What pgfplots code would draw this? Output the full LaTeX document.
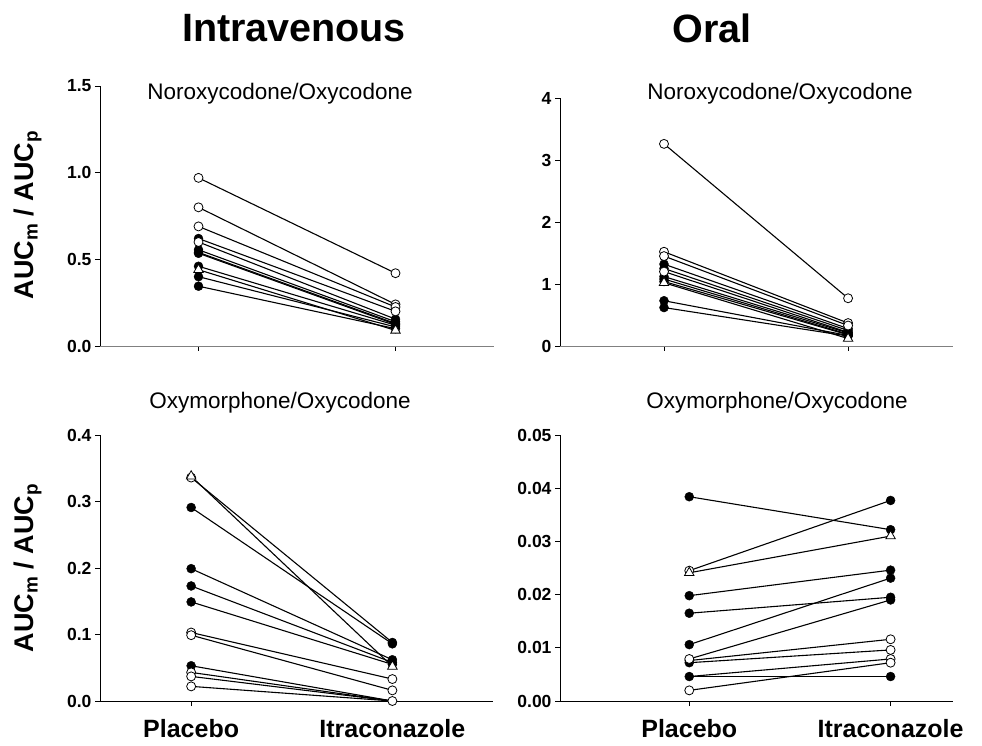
\documentclass[border=0pt]{standalone}
\usepackage{fontspec}
\setmainfont{Liberation Sans}
\usepackage{pgfplots}
\pgfplotsset{compat=1.18}
\pgfplotsset{
  panel/.style={scale only axis, axis x line=bottom, axis y line=left,
    axis line style={-, line width=0.8pt}, tick align=outside,
    major tick length=5pt, tick style={black, line width=0.8pt},
    xtick={1,2}, ymin=0, minor tick num=0, scaled y ticks=false,
    /pgf/number format/assume math mode=true,
    yticklabel style={font=\bfseries\fontsize{17.5}{17.5}\selectfont},
    xticklabel style={font=\bfseries\fontsize{25}{25}\selectfont, inner sep=0pt, yshift=-13.5pt},
    clip=false},
  ln/.style={black, line width=1.1pt, no markers, forget plot},
  fo/.style={only marks, mark=*, mark size=4.5pt, mark options={fill=black, draw=black}},
  oo/.style={only marks, mark=*, mark size=4.5pt, mark options={fill=white, draw=black, line width=0.8pt}},
  to/.style={only marks, mark=triangle*, mark size=5.5pt, mark options={fill=white, draw=black, line width=0.8pt}},
  prec1/.style={yticklabel style={/pgf/number format/fixed, /pgf/number format/fixed zerofill, /pgf/number format/precision=1}},
  prec2/.style={yticklabel style={/pgf/number format/fixed, /pgf/number format/fixed zerofill, /pgf/number format/precision=2}},
}
\begin{document}
\begin{tikzpicture}
\useasboundingbox (0,0) rectangle (982pt,745pt);
% ---------- Top-left: IV Noroxycodone/Oxycodone
\begin{axis}[panel, prec1, at={(100pt,399pt)}, anchor=south west, width=394pt, height=260pt,
  xmin=0.5, xmax=2.5, ymax=1.5, ytick={0,0.5,1.0,1.5}, xticklabels={},
  x axis line style={gray}]
\addplot[ln] coordinates {(1,0.97) (2,0.42)};
\addplot[ln] coordinates {(1,0.80) (2,0.24)};
\addplot[ln] coordinates {(1,0.69) (2,0.225)};
\addplot[ln] coordinates {(1,0.62) (2,0.20)};
\addplot[ln] coordinates {(1,0.60) (2,0.155)};
\addplot[ln] coordinates {(1,0.555) (2,0.14)};
\addplot[ln] coordinates {(1,0.54) (2,0.13)};
\addplot[ln] coordinates {(1,0.535) (2,0.125)};
\addplot[ln] coordinates {(1,0.46) (2,0.12)};
\addplot[ln] coordinates {(1,0.44) (2,0.09)};
\addplot[ln] coordinates {(1,0.40) (2,0.11)};
\addplot[ln] coordinates {(1,0.345) (2,0.10)};
\addplot[fo] coordinates {(1,0.62) (1,0.555) (1,0.54) (1,0.535) (1,0.46) (1,0.40) (1,0.345)
  (2,0.155) (2,0.14) (2,0.13) (2,0.125) (2,0.12) (2,0.11) (2,0.10)};
\addplot[oo] coordinates {(1,0.97) (1,0.80) (1,0.69) (1,0.60) (2,0.42) (2,0.24) (2,0.225) (2,0.20)};
\addplot[to] coordinates {(1,0.44) (2,0.09)};
\end{axis}
% ---------- Top-right: Oral Noroxycodone/Oxycodone
\begin{axis}[panel, at={(560pt,399pt)}, anchor=south west, width=393pt, height=248pt,
  xmin=0.435, xmax=2.57, ymax=4, ytick={0,1,2,3,4}, xticklabels={},
  x axis line style={gray}]
\addplot[ln] coordinates {(1,3.26) (2,0.77)};
\addplot[ln] coordinates {(1,1.52) (2,0.37)};
\addplot[ln] coordinates {(1,1.45) (2,0.33)};
\addplot[ln] coordinates {(1,1.32) (2,0.28)};
\addplot[ln] coordinates {(1,1.25) (2,0.25)};
\addplot[ln] coordinates {(1,1.20) (2,0.22)};
\addplot[ln] coordinates {(1,1.12) (2,0.21)};
\addplot[ln] coordinates {(1,1.08) (2,0.19)};
\addplot[ln] coordinates {(1,1.04) (2,0.18)};
\addplot[ln] coordinates {(1,1.02) (2,0.12)};
\addplot[ln] coordinates {(1,0.73) (2,0.17)};
\addplot[ln] coordinates {(1,0.62) (2,0.16)};
\addplot[fo] coordinates {(1,1.32) (1,1.25) (1,1.12) (1,1.08) (1,1.04) (1,0.73) (1,0.62)
  (2,0.28) (2,0.25) (2,0.22) (2,0.21) (2,0.19) (2,0.18) (2,0.17) (2,0.16)};
\addplot[oo] coordinates {(1,3.26) (1,1.52) (1,1.45) (1,1.20) (2,0.77) (2,0.37) (2,0.33)};
\addplot[to] coordinates {(1,1.02) (2,0.12)};
\end{axis}
% ---------- Bottom-left: IV Oxymorphone/Oxycodone
\begin{axis}[panel, prec1, at={(100pt,44pt)}, anchor=south west, width=393pt, height=266pt,
  xmin=0.547, xmax=2.5, ymax=0.4, ytick={0,0.1,0.2,0.3,0.4}, xticklabels={Placebo,Itraconazole}]
\addplot[ln] coordinates {(1,0.338) (2,0.052)};
\addplot[ln] coordinates {(1,0.336) (2,0.088)};
\addplot[ln] coordinates {(1,0.291) (2,0.086)};
\addplot[ln] coordinates {(1,0.199) (2,0.062)};
\addplot[ln] coordinates {(1,0.173) (2,0.058)};
\addplot[ln] coordinates {(1,0.149) (2,0.055)};
\addplot[ln] coordinates {(1,0.103) (2,0.033)};
\addplot[ln] coordinates {(1,0.099) (2,0.016)};
\addplot[ln] coordinates {(1,0.053) (2,0.0)};
\addplot[ln] coordinates {(1,0.043) (2,0.0)};
\addplot[ln] coordinates {(1,0.037) (2,0.0)};
\addplot[ln] coordinates {(1,0.022) (2,0.0)};
\addplot[fo] coordinates {(1,0.291) (1,0.199) (1,0.173) (1,0.149) (1,0.053)
  (2,0.088) (2,0.086) (2,0.062) (2,0.058) (2,0.055)};
\addplot[oo] coordinates {(1,0.336) (1,0.103) (1,0.099) (1,0.043) (1,0.037) (1,0.022)
  (2,0.033) (2,0.016) (2,0.0)};
\addplot[to] coordinates {(1,0.338) (2,0.052)};
\end{axis}
% ---------- Bottom-right: Oral Oxymorphone/Oxycodone
\begin{axis}[panel, prec2, at={(560pt,44pt)}, anchor=south west, width=393pt, height=266pt,
  xmin=0.358, xmax=2.31, ymax=0.05, ytick={0,0.01,0.02,0.03,0.04,0.05}, xticklabels={Placebo,Itraconazole}]
\addplot[ln] coordinates {(1,0.0384) (2,0.0322)};
\addplot[ln] coordinates {(1,0.0245) (2,0.0377)};
\addplot[ln] coordinates {(1,0.0241) (2,0.0310)};
\addplot[ln] coordinates {(1,0.0198) (2,0.0246)};
\addplot[ln] coordinates {(1,0.0165) (2,0.0195)};
\addplot[ln] coordinates {(1,0.0106) (2,0.0231)};
\addplot[ln] coordinates {(1,0.0079) (2,0.0190)};
\addplot[ln] coordinates {(1,0.0076) (2,0.0116)};
\addplot[ln] coordinates {(1,0.0072) (2,0.0096)};
\addplot[ln] coordinates {(1,0.0046) (2,0.0079)};
\addplot[ln] coordinates {(1,0.0046) (2,0.0046)};
\addplot[ln] coordinates {(1,0.0020) (2,0.0072)};
\addplot[fo] coordinates {(1,0.0384) (1,0.0198) (1,0.0165) (1,0.0106) (1,0.0076) (1,0.0072) (1,0.0046)
  (2,0.0377) (2,0.0322) (2,0.0246) (2,0.0231) (2,0.0195) (2,0.0190) (2,0.0046)};
\addplot[oo] coordinates {(1,0.0245) (1,0.0079) (1,0.0020) (2,0.0116) (2,0.0096) (2,0.0079) (2,0.0072)};
\addplot[to] coordinates {(1,0.0241) (2,0.0310)};
\end{axis}
% ---------- Titles and labels
\node[font=\bfseries\fontsize{39.5}{39.5}\selectfont] at (294pt,717pt) {Intravenous};
\node[font=\bfseries\fontsize{39.5}{39.5}\selectfont] at (712pt,717pt) {Oral};
\node[font=\fontsize{22.5}{22.5}\selectfont] at (280pt,651pt) {Noroxycodone/Oxycodone};
\node[font=\fontsize{22.5}{22.5}\selectfont] at (780pt,651pt) {Noroxycodone/Oxycodone};
\node[font=\fontsize{22.5}{22.5}\selectfont] at (280pt,342pt) {Oxymorphone/Oxycodone};
\node[font=\fontsize{22.5}{22.5}\selectfont] at (777pt,342pt) {Oxymorphone/Oxycodone};
\node[font=\bfseries\fontsize{27}{27}\selectfont, rotate=90] at (28pt,530pt) {AUC\textsubscript{m} / AUC\textsubscript{p}};
\node[font=\bfseries\fontsize{27}{27}\selectfont, rotate=90] at (28pt,177pt) {AUC\textsubscript{m} / AUC\textsubscript{p}};
\end{tikzpicture}
\end{document}
